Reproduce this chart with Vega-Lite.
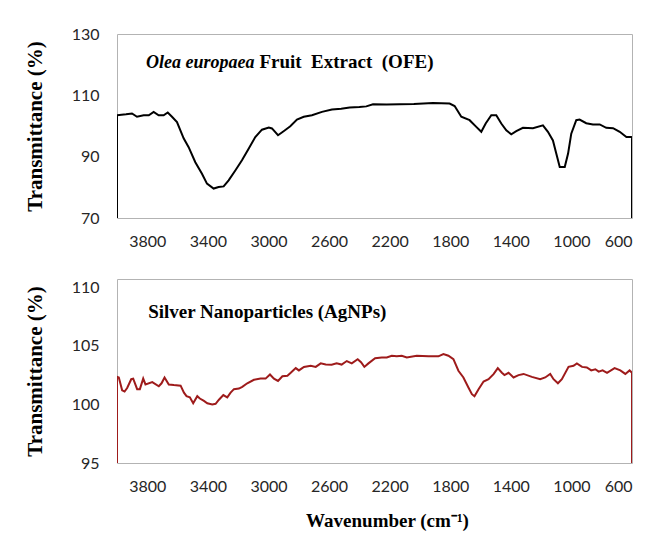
{
  "$schema": "https://vega.github.io/schema/vega-lite/v6.json",
  "padding": {"left": 23, "top": 25, "right": 10, "bottom": 20},
  "background": "white",
  "datasets": {
    "ofe": [
      {"wavenumber": 4000, "transmittance": 70},
      {"wavenumber": 4000, "transmittance": 103.5},
      {"wavenumber": 3940, "transmittance": 103.8},
      {"wavenumber": 3901, "transmittance": 104.1},
      {"wavenumber": 3868, "transmittance": 103.0},
      {"wavenumber": 3824, "transmittance": 103.5},
      {"wavenumber": 3790, "transmittance": 103.5},
      {"wavenumber": 3758, "transmittance": 104.6},
      {"wavenumber": 3725, "transmittance": 103.5},
      {"wavenumber": 3692, "transmittance": 103.5},
      {"wavenumber": 3665, "transmittance": 104.4},
      {"wavenumber": 3637, "transmittance": 103.0},
      {"wavenumber": 3604, "transmittance": 101.3},
      {"wavenumber": 3560, "transmittance": 96.0},
      {"wavenumber": 3527, "transmittance": 93.1},
      {"wavenumber": 3483, "transmittance": 88.2},
      {"wavenumber": 3439, "transmittance": 84.4},
      {"wavenumber": 3406, "transmittance": 81.2},
      {"wavenumber": 3362, "transmittance": 79.6},
      {"wavenumber": 3329, "transmittance": 80.1},
      {"wavenumber": 3296, "transmittance": 80.3},
      {"wavenumber": 3263, "transmittance": 82.3},
      {"wavenumber": 3219, "transmittance": 85.5},
      {"wavenumber": 3175, "transmittance": 88.8},
      {"wavenumber": 3131, "transmittance": 92.6},
      {"wavenumber": 3087, "transmittance": 96.4},
      {"wavenumber": 3043, "transmittance": 98.8},
      {"wavenumber": 2998, "transmittance": 99.5},
      {"wavenumber": 2977, "transmittance": 99.2},
      {"wavenumber": 2937, "transmittance": 97.0},
      {"wavenumber": 2900, "transmittance": 98.3},
      {"wavenumber": 2856, "transmittance": 99.9},
      {"wavenumber": 2812, "transmittance": 102.1},
      {"wavenumber": 2767, "transmittance": 103.0},
      {"wavenumber": 2713, "transmittance": 103.5},
      {"wavenumber": 2647, "transmittance": 104.6},
      {"wavenumber": 2581, "transmittance": 105.4},
      {"wavenumber": 2520, "transmittance": 105.6},
      {"wavenumber": 2464, "transmittance": 106.0},
      {"wavenumber": 2400, "transmittance": 106.2},
      {"wavenumber": 2354, "transmittance": 106.4},
      {"wavenumber": 2310, "transmittance": 107.1},
      {"wavenumber": 2220, "transmittance": 107.0},
      {"wavenumber": 2134, "transmittance": 107.1},
      {"wavenumber": 2040, "transmittance": 107.2},
      {"wavenumber": 1914, "transmittance": 107.5},
      {"wavenumber": 1804, "transmittance": 107.3},
      {"wavenumber": 1771, "transmittance": 106.5},
      {"wavenumber": 1727, "transmittance": 103.0},
      {"wavenumber": 1672, "transmittance": 101.9},
      {"wavenumber": 1628, "transmittance": 99.7},
      {"wavenumber": 1595, "transmittance": 98.1},
      {"wavenumber": 1566, "transmittance": 100.8},
      {"wavenumber": 1529, "transmittance": 103.5},
      {"wavenumber": 1496, "transmittance": 103.5},
      {"wavenumber": 1463, "transmittance": 100.8},
      {"wavenumber": 1430, "transmittance": 98.6},
      {"wavenumber": 1397, "transmittance": 97.3},
      {"wavenumber": 1364, "transmittance": 98.3},
      {"wavenumber": 1320, "transmittance": 99.4},
      {"wavenumber": 1254, "transmittance": 99.3},
      {"wavenumber": 1188, "transmittance": 100.2},
      {"wavenumber": 1155, "transmittance": 98.1},
      {"wavenumber": 1122, "transmittance": 95.3},
      {"wavenumber": 1100, "transmittance": 91.0},
      {"wavenumber": 1077, "transmittance": 86.6},
      {"wavenumber": 1044, "transmittance": 86.6},
      {"wavenumber": 1022, "transmittance": 91.0},
      {"wavenumber": 1001, "transmittance": 97.5},
      {"wavenumber": 968, "transmittance": 101.9},
      {"wavenumber": 946, "transmittance": 102.1},
      {"wavenumber": 902, "transmittance": 100.9},
      {"wavenumber": 858, "transmittance": 100.5},
      {"wavenumber": 813, "transmittance": 100.5},
      {"wavenumber": 770, "transmittance": 99.4},
      {"wavenumber": 725, "transmittance": 99.3},
      {"wavenumber": 681, "transmittance": 98.1},
      {"wavenumber": 637, "transmittance": 96.4},
      {"wavenumber": 604, "transmittance": 96.4},
      {"wavenumber": 600, "transmittance": 96.3},
      {"wavenumber": 600, "transmittance": 70}
    ],
    "agnps": [
      {"wavenumber": 4000, "transmittance": 95},
      {"wavenumber": 4000, "transmittance": 102.36},
      {"wavenumber": 3988, "transmittance": 102.3},
      {"wavenumber": 3966, "transmittance": 101.2},
      {"wavenumber": 3950, "transmittance": 101.1},
      {"wavenumber": 3933, "transmittance": 101.4},
      {"wavenumber": 3906, "transmittance": 102.15},
      {"wavenumber": 3893, "transmittance": 102.2},
      {"wavenumber": 3867, "transmittance": 101.3},
      {"wavenumber": 3849, "transmittance": 101.3},
      {"wavenumber": 3827, "transmittance": 102.2},
      {"wavenumber": 3812, "transmittance": 101.7},
      {"wavenumber": 3767, "transmittance": 101.9},
      {"wavenumber": 3724, "transmittance": 101.55},
      {"wavenumber": 3706, "transmittance": 101.8},
      {"wavenumber": 3686, "transmittance": 102.3},
      {"wavenumber": 3658, "transmittance": 101.7},
      {"wavenumber": 3625, "transmittance": 101.65},
      {"wavenumber": 3580, "transmittance": 101.6},
      {"wavenumber": 3558, "transmittance": 101.0},
      {"wavenumber": 3541, "transmittance": 100.7},
      {"wavenumber": 3519, "transmittance": 100.6},
      {"wavenumber": 3497, "transmittance": 100.1},
      {"wavenumber": 3470, "transmittance": 100.7},
      {"wavenumber": 3453, "transmittance": 100.5},
      {"wavenumber": 3426, "transmittance": 100.3},
      {"wavenumber": 3404, "transmittance": 100.1},
      {"wavenumber": 3371, "transmittance": 100.0},
      {"wavenumber": 3349, "transmittance": 100.05},
      {"wavenumber": 3327, "transmittance": 100.4},
      {"wavenumber": 3298, "transmittance": 100.8},
      {"wavenumber": 3272, "transmittance": 100.6},
      {"wavenumber": 3250, "transmittance": 101.0},
      {"wavenumber": 3228, "transmittance": 101.3},
      {"wavenumber": 3195, "transmittance": 101.35},
      {"wavenumber": 3173, "transmittance": 101.5},
      {"wavenumber": 3140, "transmittance": 101.8},
      {"wavenumber": 3096, "transmittance": 102.1},
      {"wavenumber": 3052, "transmittance": 102.2},
      {"wavenumber": 3019, "transmittance": 102.2},
      {"wavenumber": 2990, "transmittance": 102.55},
      {"wavenumber": 2964, "transmittance": 102.2},
      {"wavenumber": 2937, "transmittance": 102.0},
      {"wavenumber": 2908, "transmittance": 102.4},
      {"wavenumber": 2875, "transmittance": 102.45},
      {"wavenumber": 2853, "transmittance": 102.7},
      {"wavenumber": 2820, "transmittance": 103.1},
      {"wavenumber": 2799, "transmittance": 102.9},
      {"wavenumber": 2766, "transmittance": 103.2},
      {"wavenumber": 2721, "transmittance": 103.3},
      {"wavenumber": 2688, "transmittance": 103.2},
      {"wavenumber": 2655, "transmittance": 103.5},
      {"wavenumber": 2622, "transmittance": 103.4},
      {"wavenumber": 2583, "transmittance": 103.38},
      {"wavenumber": 2550, "transmittance": 103.5},
      {"wavenumber": 2517, "transmittance": 103.4},
      {"wavenumber": 2483, "transmittance": 103.7},
      {"wavenumber": 2450, "transmittance": 103.5},
      {"wavenumber": 2411, "transmittance": 103.86},
      {"wavenumber": 2389, "transmittance": 103.6},
      {"wavenumber": 2367, "transmittance": 103.2},
      {"wavenumber": 2340, "transmittance": 103.5},
      {"wavenumber": 2296, "transmittance": 103.94},
      {"wavenumber": 2252, "transmittance": 104.0},
      {"wavenumber": 2219, "transmittance": 104.0},
      {"wavenumber": 2186, "transmittance": 104.15},
      {"wavenumber": 2153, "transmittance": 104.1},
      {"wavenumber": 2120, "transmittance": 104.15},
      {"wavenumber": 2087, "transmittance": 104.0},
      {"wavenumber": 2021, "transmittance": 104.15},
      {"wavenumber": 1944, "transmittance": 104.1},
      {"wavenumber": 1878, "transmittance": 104.1},
      {"wavenumber": 1845, "transmittance": 104.3},
      {"wavenumber": 1812, "transmittance": 104.15},
      {"wavenumber": 1779, "transmittance": 103.86},
      {"wavenumber": 1746, "transmittance": 102.87},
      {"wavenumber": 1713, "transmittance": 102.3},
      {"wavenumber": 1680, "transmittance": 101.44},
      {"wavenumber": 1657, "transmittance": 100.87},
      {"wavenumber": 1640, "transmittance": 100.7},
      {"wavenumber": 1613, "transmittance": 101.3},
      {"wavenumber": 1580, "transmittance": 101.95},
      {"wavenumber": 1547, "transmittance": 102.15},
      {"wavenumber": 1514, "transmittance": 102.58},
      {"wavenumber": 1486, "transmittance": 103.1},
      {"wavenumber": 1459, "transmittance": 102.7},
      {"wavenumber": 1442, "transmittance": 102.5},
      {"wavenumber": 1415, "transmittance": 102.7},
      {"wavenumber": 1382, "transmittance": 102.3},
      {"wavenumber": 1349, "transmittance": 102.5},
      {"wavenumber": 1316, "transmittance": 102.6},
      {"wavenumber": 1261, "transmittance": 102.35},
      {"wavenumber": 1206, "transmittance": 102.15},
      {"wavenumber": 1173, "transmittance": 102.3},
      {"wavenumber": 1140, "transmittance": 102.6},
      {"wavenumber": 1118, "transmittance": 102.15},
      {"wavenumber": 1089, "transmittance": 101.8},
      {"wavenumber": 1063, "transmittance": 102.15},
      {"wavenumber": 1019, "transmittance": 103.2},
      {"wavenumber": 986, "transmittance": 103.3},
      {"wavenumber": 964, "transmittance": 103.5},
      {"wavenumber": 930, "transmittance": 103.2},
      {"wavenumber": 898, "transmittance": 103.15},
      {"wavenumber": 869, "transmittance": 102.9},
      {"wavenumber": 842, "transmittance": 103.0},
      {"wavenumber": 820, "transmittance": 102.8},
      {"wavenumber": 794, "transmittance": 102.9},
      {"wavenumber": 765, "transmittance": 102.7},
      {"wavenumber": 715, "transmittance": 103.1},
      {"wavenumber": 677, "transmittance": 102.9},
      {"wavenumber": 644, "transmittance": 102.6},
      {"wavenumber": 616, "transmittance": 102.9},
      {"wavenumber": 600, "transmittance": 102.7},
      {"wavenumber": 600, "transmittance": 95}
    ]
  },
  "vconcat": [
    {
      "width": 515,
      "height": 184,
      "layer": [
        {
          "data": {"name": "ofe"},
          "mark": {"type": "line", "color": "#000000", "strokeWidth": 2, "clip": true},
          "encoding": {
            "x": {"field": "wavenumber", "type": "quantitative",
                  "scale": {"domain": [600, 4000], "reverse": true, "nice": false, "zero": false},
                  "axis": {"values": [3800, 3400, 3000, 2600, 2200, 1800, 1400, 1000, 600], "format": "d", "title": null}},
            "y": {"field": "transmittance", "type": "quantitative",
                  "scale": {"domain": [70, 130], "nice": false, "zero": false},
                  "axis": {"values": [70, 90, 110, 130], "title": "Transmittance (%)"}},
            "order": {"value": null}
          }
        },
        {
          "data": {"values": [{}]},
          "mark": {"type": "text", "font": "Liberation Serif", "fontSize": 18, "fontWeight": "bold", "fontStyle": "italic", "align": "left", "baseline": "alphabetic", "color": "#000000"},
          "encoding": {"x": {"datum": 3809}, "y": {"datum": 118.8}, "text": {"value": "Olea europaea"}}
        },
        {
          "data": {"values": [{}]},
          "mark": {"type": "text", "font": "Liberation Serif", "fontSize": 19, "fontWeight": "bold", "align": "left", "baseline": "alphabetic", "color": "#000000"},
          "encoding": {"x": {"datum": 3060}, "y": {"datum": 118.8}, "text": {"value": "Fruit\u00a0 Extract\u00a0 (OFE)"}}
        }
      ]
    },
    {
      "width": 515,
      "height": 184,
      "layer": [
        {
          "data": {"name": "agnps"},
          "mark": {"type": "line", "color": "#9e1b1b", "strokeWidth": 2, "clip": true},
          "encoding": {
            "x": {"field": "wavenumber", "type": "quantitative",
                  "scale": {"domain": [600, 4000], "reverse": true, "nice": false, "zero": false},
                  "axis": {"values": [3800, 3400, 3000, 2600, 2200, 1800, 1400, 1000, 600], "format": "d", "title": "Wavenumber (cm⁻¹)", "titlePadding": 17, "titleX": 270}},
            "y": {"field": "transmittance", "type": "quantitative",
                  "scale": {"domain": [95, 110.7], "nice": false, "zero": false},
                  "axis": {"values": [95, 100, 105, 110], "title": "Transmittance (%)"}},
            "order": {"value": null}
          }
        },
        {
          "data": {"values": [{}]},
          "mark": {"type": "text", "font": "Liberation Serif", "fontSize": 19, "fontWeight": "bold", "align": "left", "baseline": "alphabetic", "color": "#000000"},
          "encoding": {"x": {"datum": 3794}, "y": {"datum": 107.35}, "text": {"value": "Silver Nanoparticles (AgNPs)"}}
        }
      ]
    }
  ],
  "spacing": 61,
  "bounds": "flush",
  "config": {
    "view": {"stroke": "#b3b3b3", "strokeWidth": 1},
    "axis": {"domain": false, "ticks": false, "grid": false,
             "labelFont": "Lato", "labelFontSize": 16, "labelColor": "#262626",
             "titleFont": "Liberation Serif", "titleFontWeight": "bold", "titleFontSize": 19, "titleColor": "#000000"},
    "axisX": {"labelPadding": 15},
    "axisY": {"labelPadding": 18, "titlePadding": 26, "titleFontSize": 21}
  }
}
